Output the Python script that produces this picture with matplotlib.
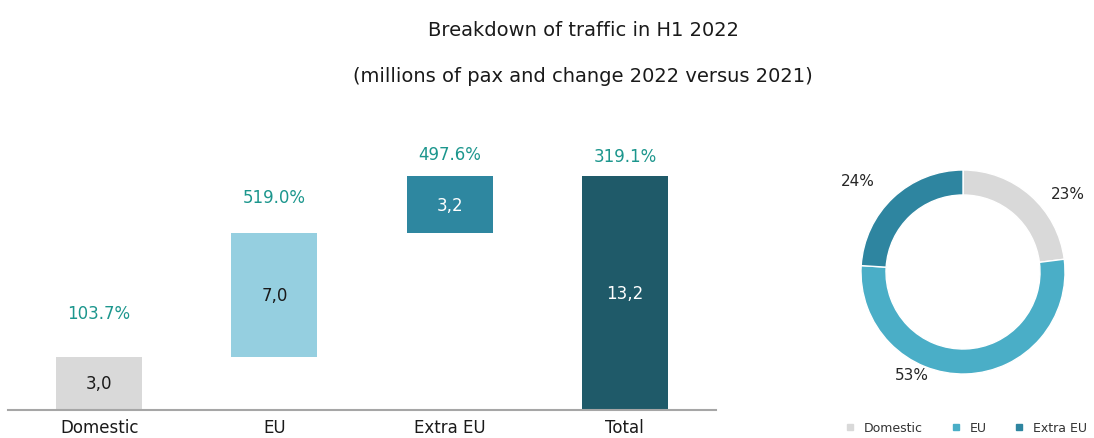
import matplotlib
matplotlib.use("Agg")
import matplotlib.pyplot as plt
from matplotlib.lines import Line2D
import numpy as np

plt.rcParams['font.family'] = ['DejaVu Sans']

# ---- data ----
categories = ["Domestic", "EU", "Extra EU", "Total"]
segment_values = [3.0, 7.0, 3.2]
total_value = 13.2
value_labels = ["3,0", "7,0", "3,2", "13,2"]
change_labels = ["103.7%", "519.0%", "497.6%", "319.1%"]

share_labels = ["Domestic", "EU", "Extra EU"]
share_values = [23, 53, 24]

title = "Breakdown of traffic in H1 2022"
subtitle = "(millions of pax and change 2022 versus 2021)"

# ---- styles ----
bar_colors = ["#d9d9d9", "#95cfe0", "#2e87a0", "#1f5a69"]
value_text_colors = ["#1a1a1a", "#1a1a1a", "white", "white"]
pct_color = "#1c968d"
pct_offsets_px = [44, 36, 22, 20]
donut_colors = ["#d9d9d9", "#4aaec7", "#2e85a0"]
donut_label_pos = [(1.03, 0.77), (-0.50, -1.00), (-1.03, 0.90)]

W, H = 1094, 439
fig = plt.figure(figsize=(W / 100, H / 100), dpi=100)

# ---- waterfall ----
ax = fig.add_axes([8 / W, 1 - 411 / H, 708 / W, 271 / H])
bottoms = list(np.concatenate([[0], np.cumsum(segment_values)[:-1]])) + [0]
heights = segment_values + [total_value]
x = np.arange(len(categories))
ax.bar(x, heights, bottom=bottoms, width=0.49, color=bar_colors)
ax.set_xlim(-0.52, 3.52)
ax.set_ylim(0, 271 / 17.7)
for i, (b, h) in enumerate(zip(bottoms, heights)):
    ax.text(x[i], b + h / 2, value_labels[i], ha="center", va="center",
            fontsize=12, color=value_text_colors[i])
    ax.annotate(change_labels[i], (x[i], b + h), xytext=(0, pct_offsets_px[i] * 0.72),
                textcoords="offset points", ha="center", va="center",
                fontsize=12, color=pct_color)
for s in ["top", "right", "left"]:
    ax.spines[s].set_visible(False)
ax.spines["bottom"].set_color("#a6a6a6")
ax.spines["bottom"].set_linewidth(1.5)
ax.set_yticks([])
ax.set_xticks(x)
ax.set_xticklabels(categories, fontsize=12, color="#1a1a1a")
ax.tick_params(axis="x", length=0, pad=6)

# ---- donut ----
R = 102
side = 2 * 1.6 * R
cx, cy = 963, 273
ax2 = fig.add_axes([(cx - side / 2) / W, 1 - (cy + side / 2) / H, side / W, side / H])
ax2.pie(share_values, colors=donut_colors, startangle=90, counterclock=False,
        radius=1, wedgeprops=dict(width=0.245, edgecolor="white", linewidth=1))
ax2.set_xlim(-1.6, 1.6)
ax2.set_ylim(-1.6, 1.6)
ax2.set_aspect("equal")
ax2.axis("off")
for (px, py), v in zip(donut_label_pos, share_values):
    ax2.text(px, py, f"{v}%", ha="center", va="center", fontsize=11, color="#262626")

handles = [Line2D([0], [0], marker="s", linestyle="none", markersize=4,
                  markerfacecolor=c, markeredgecolor=c) for c in donut_colors]
fig.legend(handles, share_labels, loc="center", bbox_to_anchor=(966 / W, 1 - 429 / H),
           ncol=3, frameon=False, fontsize=9, handlelength=0.8, handletextpad=0.7,
           columnspacing=2.2, labelcolor="#333333", borderpad=0, borderaxespad=0)

# ---- titles ----
fig.text(583 / W, 1 - 30 / H, title, ha="center", va="center", fontsize=14, color="#1a1a1a")
fig.text(583 / W, 1 - 76 / H, subtitle, ha="center", va="center", fontsize=14, color="#1a1a1a")

fig.savefig("out.png", dpi=100)
